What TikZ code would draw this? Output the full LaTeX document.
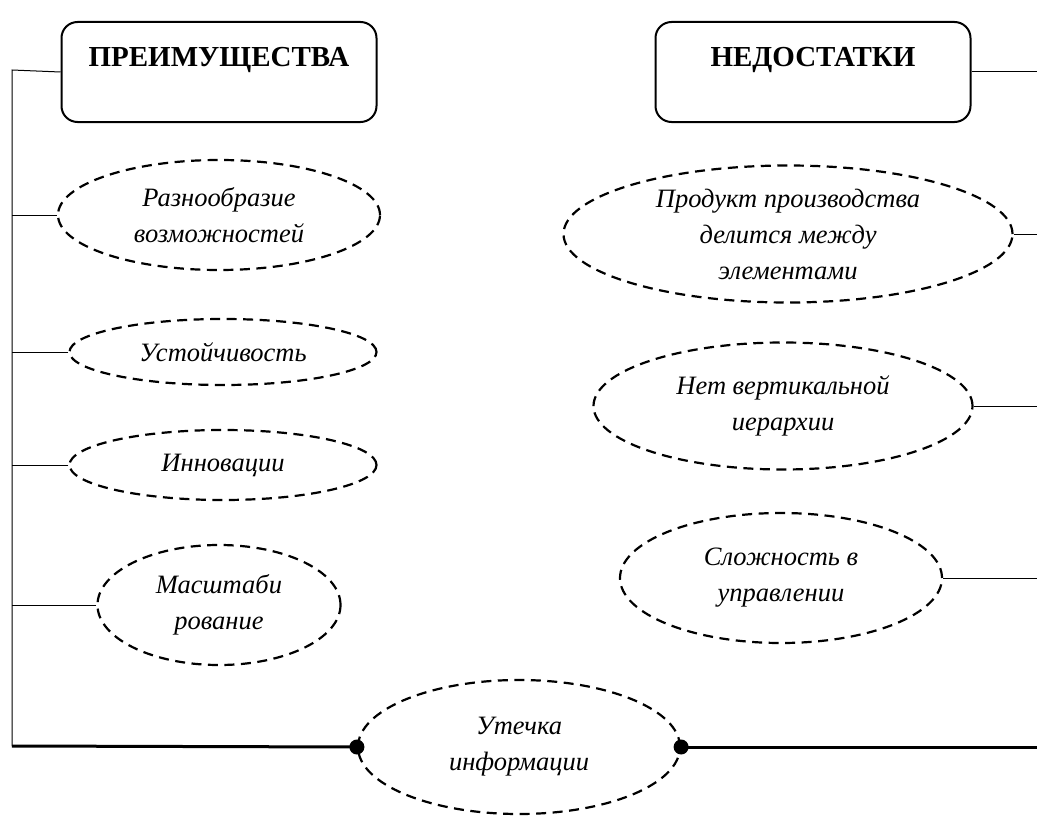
\documentclass[tikz,border=0pt]{standalone}
\usepackage{fontspec}
\setmainfont{Liberation Serif}
\usetikzlibrary{shapes.geometric}

\tikzset{
    titlebox/.style={draw, line width=2pt, rounded corners=16pt, minimum width=315pt,
        minimum height=100pt, text depth=30pt, font=\fontsize{29}{32}\selectfont\bfseries},
    idea/.style={draw, ellipse, dashed, dash pattern=on 10pt off 6.5pt, line width=2.2pt,
        inner sep=0pt, align=center, font=\fontsize{26.5}{36}\selectfont\itshape},
    link/.style={line width=1pt},
    base/.style={line width=3pt},
    dot/.style={circle, fill, inner sep=0pt, minimum size=15pt}
}

\begin{document}
\begin{tikzpicture}[x=1pt,y=-1pt]
    \useasboundingbox (0,0) rectangle (1037,816);
    \clip (0,0) rectangle (1037,816);

    % Заголовки
    \node[titlebox] (adv) at (219,72) {ПРЕИМУЩЕСТВА};
    \node[titlebox] (dis) at (813,72) {НЕДОСТАТКИ};

    % Опорные точки
    \coordinate (lt) at (12,70);
    \coordinate (lb) at (12,746);
    \coordinate (redge) at (1037,70);

    % Преимущества
    \node[idea, minimum width=322pt, minimum height=110pt] (a1) at (219,215) {Разнообразие\\возможностей};
    \node[idea, minimum width=307pt, minimum height=66pt] (a2) at (223,352) {Устойчивость};
    \node[idea, minimum width=307pt, minimum height=70pt] (a3) at (223,465) {Инновации};
    \node[idea, minimum width=243pt, minimum height=120pt] (a4) at (219,605) {Масштаби\\рование};

    % Недостатки
    \node[idea, minimum width=449pt, minimum height=137pt] (d1) at (788,234) {Продукт производства\\делится между\\элементами};
    \node[idea, minimum width=379pt, minimum height=127pt] (d2) at (783,406) {Нет вертикальной\\иерархии};
    \node[idea, minimum width=322pt, minimum height=130pt] (d3) at (781,578) {Сложность в\\управлении};

    % Общий недостаток
    \node[idea, minimum width=322pt, minimum height=134pt] (leak) at (519,747) {Утечка\\информации};

    % Связи
    \draw[link] (adv.west) -- (lt) -- (lb);
    \draw[link] (dis.east) -- (dis.east -| redge);
    \foreach \n in {a1,a2,a3,a4}
        \draw[link] (\n.west) -- (\n.west -| lt);
    \foreach \n in {d1,d2,d3}
        \draw[link] (\n.east) -- (\n.east -| redge);

    \draw[base] (lb) -- (leak.west);
    \draw[base] (leak.east) -- (leak.east -| redge);
    \node[dot] (ldot) at (leak.west) {};
    \node[dot] (rdot) at (leak.east) {};
\end{tikzpicture}
\end{document}
